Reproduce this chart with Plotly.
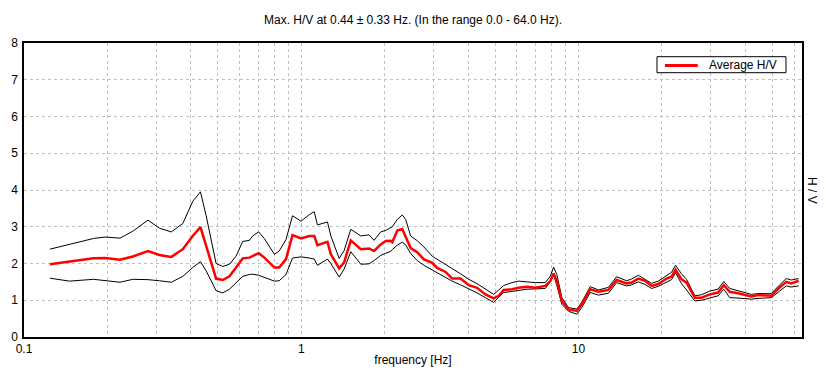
import plotly.graph_objects as go

# Frequencies [Hz] (shared by all three curves)
freq = [0.124, 0.146, 0.178, 0.196, 0.222, 0.247, 0.280, 0.308, 0.340, 0.374,
        0.406, 0.433, 0.454, 0.493, 0.521, 0.551, 0.582, 0.615, 0.650, 0.668,
        0.702, 0.736, 0.800, 0.833, 0.881, 0.930, 0.998, 1.069, 1.114, 1.144,
        1.243, 1.279, 1.370, 1.428, 1.509, 1.640, 1.756, 1.831, 1.935, 2.017,
        2.102, 2.130, 2.221, 2.314, 2.380, 2.481, 2.620, 2.770, 2.967, 3.093,
        3.316, 3.502, 3.754, 4.021, 4.308, 4.617, 4.945, 5.155, 5.373, 5.756,
        6.084, 6.516, 6.988, 7.589, 7.911, 8.131, 8.355, 8.709, 9.205, 9.860,
        10.28, 11.02, 11.80, 12.82, 13.73, 14.92, 15.55, 16.44, 17.38, 18.35,
        19.40, 20.78, 21.66, 22.39, 23.53, 24.53, 26.29, 27.76, 29.76, 31.88,
        33.42, 35.13, 37.63, 42.02, 44.41, 49.60, 53.16, 56.16, 58.54, 62.23]

avg_hv = [1.98, 2.05, 2.14, 2.15, 2.10, 2.19, 2.34, 2.23, 2.18, 2.39,
          2.75, 2.99, 2.48, 1.59, 1.55, 1.65, 1.89, 2.14, 2.16, 2.21,
          2.28, 2.16, 1.89, 1.89, 2.12, 2.77, 2.68, 2.75, 2.75, 2.50,
          2.59, 2.25, 1.87, 2.03, 2.63, 2.39, 2.41, 2.34, 2.52, 2.61,
          2.62, 2.58, 2.90, 2.94, 2.74, 2.42, 2.31, 2.11, 2.02, 1.88,
          1.77, 1.59, 1.59, 1.41, 1.34, 1.16, 1.05, 1.12, 1.28, 1.30,
          1.34, 1.37, 1.34, 1.39, 1.52, 1.73, 1.52, 0.98, 0.75, 0.71,
          0.89, 1.30, 1.23, 1.28, 1.55, 1.46, 1.48, 1.59, 1.53, 1.39,
          1.44, 1.59, 1.64, 1.83, 1.57, 1.48, 1.07, 1.07, 1.16, 1.21,
          1.41, 1.23, 1.19, 1.10, 1.14, 1.12, 1.35, 1.50, 1.46, 1.53]

upper_hv = [2.39, 2.53, 2.68, 2.72, 2.69, 2.88, 3.18, 2.96, 2.86, 3.09,
            3.69, 3.95, 3.30, 2.00, 1.92, 1.98, 2.20, 2.60, 2.63, 2.75,
            2.86, 2.68, 2.25, 2.34, 2.65, 3.30, 3.15, 3.33, 3.41, 3.05,
            3.13, 2.75, 2.14, 2.35, 2.93, 2.75, 2.78, 2.63, 2.86, 2.90,
            2.96, 3.00, 3.20, 3.32, 3.20, 2.75, 2.62, 2.45, 2.20, 2.12,
            1.97, 1.86, 1.72, 1.57, 1.45, 1.30, 1.16, 1.28, 1.40, 1.48,
            1.52, 1.50, 1.48, 1.48, 1.65, 1.90, 1.70, 1.07, 0.80, 0.76,
            0.95, 1.37, 1.28, 1.35, 1.64, 1.53, 1.58, 1.68, 1.58, 1.46,
            1.52, 1.68, 1.76, 1.95, 1.72, 1.57, 1.12, 1.15, 1.25, 1.30,
            1.51, 1.32, 1.26, 1.16, 1.18, 1.18, 1.42, 1.59, 1.55, 1.59]

lower_hv = [1.60, 1.52, 1.57, 1.54, 1.49, 1.57, 1.56, 1.53, 1.49, 1.65,
            1.89, 2.05, 1.80, 1.26, 1.20, 1.30, 1.48, 1.65, 1.70, 1.71,
            1.68, 1.62, 1.52, 1.53, 1.70, 2.15, 2.18, 2.15, 2.12, 1.95,
            2.12, 2.00, 1.63, 1.85, 2.32, 1.98, 1.99, 2.08, 2.22, 2.28,
            2.33, 2.38, 2.50, 2.58, 2.51, 2.27, 2.08, 1.95, 1.82, 1.75,
            1.63, 1.52, 1.42, 1.32, 1.20, 1.07, 0.94, 1.08, 1.21, 1.24,
            1.27, 1.30, 1.31, 1.32, 1.50, 1.70, 1.40, 0.89, 0.70, 0.62,
            0.80, 1.21, 1.14, 1.19, 1.48, 1.39, 1.42, 1.50, 1.43, 1.32,
            1.38, 1.50, 1.56, 1.75, 1.45, 1.28, 0.98, 1.00, 1.07, 1.12,
            1.30, 1.07, 1.06, 1.03, 1.05, 1.07, 1.25, 1.39, 1.36, 1.39]

x_grid_vals = [0.1, 0.2, 0.3, 0.4, 0.5, 0.6, 0.7, 0.8, 0.9,
               1, 2, 3, 4, 5, 6, 7, 8, 9,
               10, 20, 30, 40, 50, 60]
x_grid_text = ["0.1", "", "", "", "", "", "", "", "",
               "1", "", "", "", "", "", "", "", "",
               "10", "", "", "", "", ""]
y_tick_vals = [0, 1, 2, 3, 4, 5, 6, 7, 8]

title_text = "Max. H/V at 0.44 \u00b1 0.33 Hz. (In the range 0.0 - 64.0 Hz)."
x_title = "frequency [Hz]"
y_title = "H / V"
legend_name = "Average H/V"

FONT = "Liberation Sans, Arial, sans-serif"
RED = "#ff0000"

fig = go.Figure()
fig.add_trace(go.Scatter(x=freq, y=upper_hv, mode="lines",
                         line=dict(color="black", width=1), showlegend=False,
                         hoverinfo="skip"))
fig.add_trace(go.Scatter(x=freq, y=lower_hv, mode="lines",
                         line=dict(color="black", width=1), showlegend=False,
                         hoverinfo="skip"))
fig.add_trace(go.Scatter(x=freq, y=avg_hv, mode="lines", name=legend_name,
                         line=dict(color=RED, width=2.5), showlegend=False))

fig.update_layout(
    width=826, height=381,
    margin=dict(l=24, r=24, t=43, b=44),
    paper_bgcolor="white", plot_bgcolor="white",
    font=dict(family=FONT, size=12, color="black"),
    title=dict(text=title_text, x=0.5, xanchor="center",
               y=1 - 20 / 381, yanchor="middle", yref="container",
               font=dict(family=FONT, size=12, color="black")),
    showlegend=False,
)

fig.update_xaxes(
    type="log", range=[-1, 1.80618],
    tickvals=x_grid_vals, ticktext=x_grid_text,
    showgrid=True, gridcolor="#c0c0c0", griddash="3px,3px", gridwidth=1,
    showline=True, linecolor="black", linewidth=1.5, mirror=True,
    ticks="", zeroline=False,
    title=dict(text=x_title, standoff=0, font=dict(family=FONT, size=12)),
    tickfont=dict(family=FONT, size=12, color="black"),
)
fig.update_yaxes(
    range=[0, 8], tickvals=y_tick_vals,
    showgrid=True, gridcolor="#c0c0c0", griddash="3px,3px", gridwidth=1,
    showline=True, linecolor="black", linewidth=1.5, mirror=True,
    ticks="", zeroline=False, ticklabelstandoff=2,
    tickfont=dict(family=FONT, size=12, color="black"),
)

# Right-hand vertical axis title (reads top to bottom)
fig.add_annotation(text=y_title, textangle=90, showarrow=False,
                   xref="paper", yref="paper", x=1.0, y=0.5,
                   xanchor="left", yanchor="middle", xshift=1,
                   font=dict(family=FONT, size=12, color="black"))

# Legend box (compact, like the reference)
fig.add_shape(type="rect", xref="paper", yref="paper",
              x0=0.8136, x1=0.9794, y0=0.899, y1=0.9534,
              line=dict(color="black", width=1), fillcolor="white", layer="above")
fig.add_shape(type="line", xref="paper", yref="paper",
              x0=0.8239, x1=0.8660, y0=0.9235, y1=0.9235,
              line=dict(color=RED, width=3), layer="above")
fig.add_annotation(text=legend_name, showarrow=False,
                   xref="paper", yref="paper", x=0.8785, y=0.9262,
                   xanchor="left", yanchor="middle",
                   font=dict(family=FONT, size=12, color="black"))

fig.write_html(
    "out.html",
    config={"displayModeBar": False},
    post_script="document.body.style.margin='0';document.body.style.padding='0';",
)
